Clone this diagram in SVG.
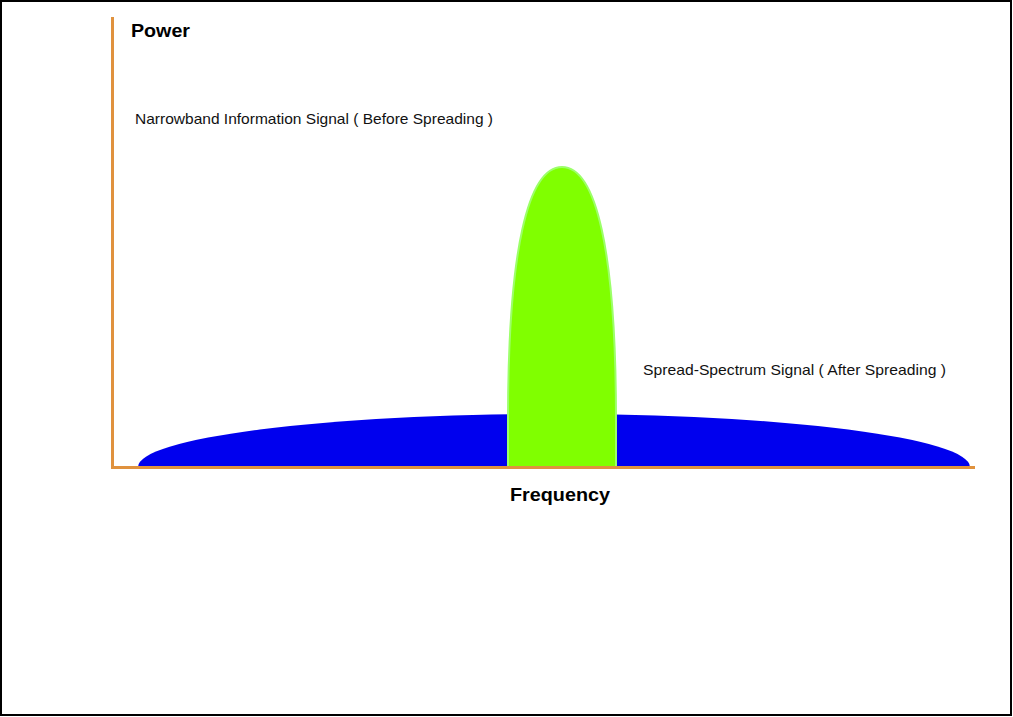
<svg xmlns="http://www.w3.org/2000/svg" width="1013" height="717" viewBox="0 0 1013 717">
<style>
.lbl{font-family:"Liberation Sans",Arial,sans-serif;font-size:15px;fill:#111}
.ax{font-family:"Liberation Sans",Arial,sans-serif;font-size:18px;font-weight:bold;fill:#000}
.axis{stroke:#E0923E;stroke-width:3;fill:none}
</style>
<rect x="1" y="1" width="1010" height="714" fill="#fff" stroke="#000" stroke-width="2"/>
<g id="spread">
<path d="M138,467 A416,53 0 0 1 970,467 Z" fill="#0000EE"/>
</g>
<g id="narrow">
<path d="M508,467 L508,420 C508,250 528,167 562,167 C596,167 616,250 616,420 L616,467 Z" fill="#80FF00" stroke="#9CFF6A" stroke-width="2"/>
</g>
<g id="axes">
<line class="axis" x1="112.5" y1="17" x2="112.5" y2="468"/>
<line class="axis" x1="111" y1="467.5" x2="975" y2="467.5"/>
</g>
<g id="labels">
<text class="ax" x="131" y="37" textLength="59" lengthAdjust="spacingAndGlyphs">Power</text>
<text class="ax" x="510" y="501" textLength="100" lengthAdjust="spacingAndGlyphs">Frequency</text>
<text class="lbl" x="135" y="124" textLength="358" lengthAdjust="spacingAndGlyphs">Narrowband Information Signal ( Before Spreading )</text>
<text class="lbl" x="643" y="375" textLength="303" lengthAdjust="spacingAndGlyphs">Spread-Spectrum Signal ( After Spreading )</text>
</g>
</svg>
